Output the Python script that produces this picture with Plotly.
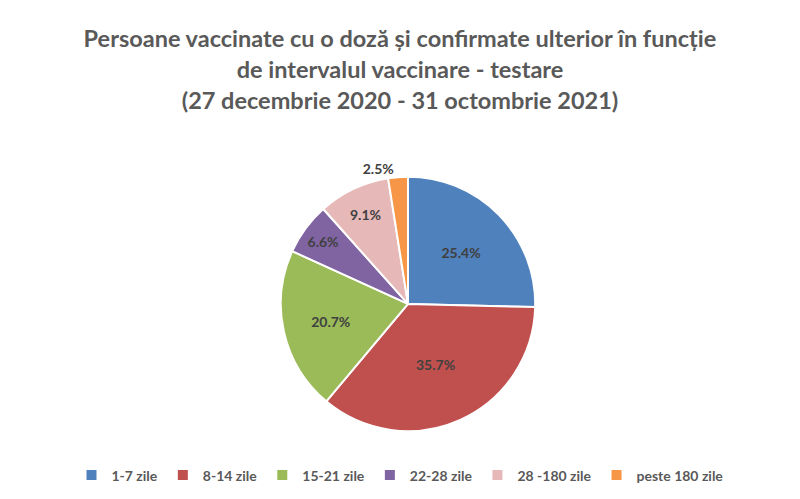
import plotly.graph_objects as go

labels = ["1-7 zile", "8-14 zile", "15-21 zile", "22-28 zile", "28 -180 zile", "peste 180 zile"]
values = [25.4, 35.7, 20.7, 6.6, 9.1, 2.5]
colors = ["#4F81BD", "#C0504D", "#9BBB59", "#8064A2", "#E6B9B8", "#F79646"]
text_positions = ["inside", "inside", "inside", "inside", "inside", "outside"]

fig = go.Figure(go.Pie(
    labels=labels,
    values=values,
    sort=False,
    direction="clockwise",
    rotation=0,
    marker=dict(colors=colors, line=dict(color="white", width=2)),
    texttemplate="%{value:.1f}%",
    textposition=text_positions,
    insidetextorientation="horizontal",
    textfont=dict(family="Lato", size=14, color="#404040", weight="bold"),
    domain=dict(x=[0.351, 0.669], y=[0.11, 0.672]),
))

fig.update_layout(
    width=800, height=499,
    margin=dict(l=0, r=0, t=0, b=0),
    paper_bgcolor="white",
    title=dict(
        text="Persoane vaccinate cu o doză și confirmate ulterior în funcție<br>de intervalul vaccinare - testare<br>(27 decembrie 2020 - 31 octombrie 2021)",
        x=0.5, xanchor="center", y=0.905, yanchor="top",
        font=dict(family="Lato", size=23.5, color="#595959", weight="bold"),
    ),
    legend=dict(
        orientation="h", x=0.5, xanchor="center", y=0.015, yanchor="bottom",
        font=dict(family="Lato", size=14, color="#595959", weight="bold"),
        itemwidth=30, traceorder="normal",
    ),
)

fig.write_html("out.html")
